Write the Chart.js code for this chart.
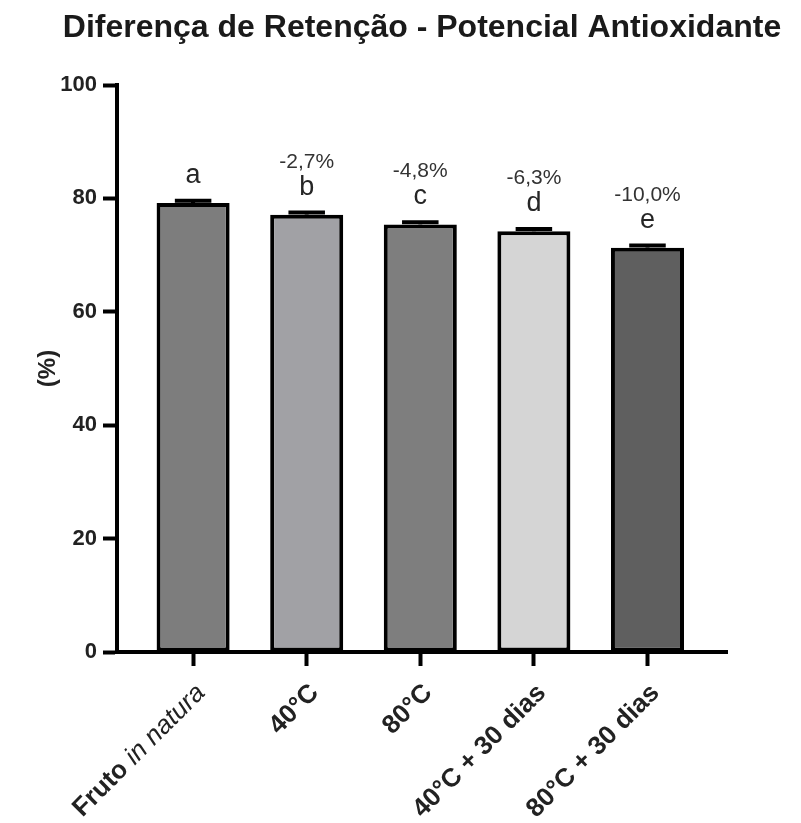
<!DOCTYPE html>
<html>
<head>
<meta charset="utf-8">
<script src="https://cdn.jsdelivr.net/npm/chart.js@4.4.0/dist/chart.umd.min.js"></script>
<style>
  html, body { margin: 0; padding: 0; background: #ffffff; }
  canvas { display: block; }
</style>
</head>
<body>
<canvas id="chart" width="801" height="823"></canvas>
<script>
// Retenção do potencial antioxidante por tratamento
const chartTitle = 'Diferença de Retenção - Potencial Antioxidante';
const categories = ['Fruto in natura', '40°C', '80°C', '40°C + 30 dias', '80°C + 30 dias'];
const italicPart = 'in natura';
const values = [79.2, 77.1, 75.4, 74.2, 71.3];
const errors = [0.4, 0.4, 0.4, 0.4, 0.4];
const letters = ['a', 'b', 'c', 'd', 'e'];
const yTicks = [0, 20, 40, 60, 80, 100];
const barColors = ['#7d7d7d', '#a1a1a5', '#7e7e7e', '#d5d5d5', '#5f5f5f'];

const FONT = "'Liberation Sans', Arial, Helvetica, sans-serif";

// Diferença percentual em relação ao fruto in natura
const diffLabels = values.map((v, i) =>
  i === 0 ? '' : ((v / values[0] - 1) * 100).toFixed(1).replace('.', ',') + '%'
);

const points = values.map((v, i) => ({ x: i, y: v }));

const annotations = {
  id: 'annotations',
  afterDatasetsDraw(chart) {
    const ctx = chart.ctx;
    const ys = chart.scales.y;
    const meta = chart.getDatasetMeta(0);
    ctx.save();
    meta.data.forEach((bar, i) => {
      const x = bar.x;
      const top = ys.getPixelForValue(values[i]);
      const eTop = ys.getPixelForValue(values[i] + errors[i]);
      const half = bar.width / 4;
      // barra de erro (SEM)
      ctx.strokeStyle = '#000';
      ctx.lineWidth = 4;
      ctx.lineCap = 'butt';
      ctx.beginPath();
      ctx.moveTo(x, top);
      ctx.lineTo(x, eTop);
      ctx.moveTo(x - half, eTop);
      ctx.lineTo(x + half, eTop);
      ctx.stroke();
      // letras de significância
      ctx.fillStyle = '#262626';
      ctx.textAlign = 'center';
      ctx.textBaseline = 'alphabetic';
      ctx.font = '27px ' + FONT;
      ctx.fillText(letters[i], x, top - 20);
      if (diffLabels[i]) {
        ctx.fillStyle = '#333';
        ctx.font = '21px ' + FONT;
        ctx.fillText(diffLabels[i], x, top - 47);
      }
    });
    ctx.restore();
  },
  afterDraw(chart) {
    const ctx = chart.ctx;
    const area = chart.chartArea;
    ctx.save();
    // título
    ctx.fillStyle = '#1a1a1a';
    ctx.font = 'bold 32px ' + FONT;
    ctx.textAlign = 'center';
    ctx.textBaseline = 'alphabetic';
    ctx.fillText(chartTitle, (area.left + area.right) / 2, 37);

    // rótulos do eixo x, inclinados
    const xs = chart.scales.x;
    ctx.fillStyle = '#222';
    ctx.textBaseline = 'middle';
    ctx.textAlign = 'left';
    categories.forEach((label, i) => {
      const parts = [];
      const k = label.indexOf(italicPart);
      if (k >= 0) {
        parts.push([label.slice(0, k), 'bold 26px ' + FONT]);
        parts.push([italicPart, 'italic 26px ' + FONT]);
      } else {
        parts.push([label, 'bold 26px ' + FONT]);
      }
      let total = 0;
      parts.forEach(p => { ctx.font = p[1]; total += ctx.measureText(p[0]).width; });
      ctx.save();
      ctx.translate(xs.getPixelForValue(i) + 8, area.bottom + 37);
      ctx.rotate(-Math.PI / 4);
      let cx = -total;
      parts.forEach(p => {
        ctx.font = p[1];
        ctx.fillText(p[0], cx, 0);
        cx += ctx.measureText(p[0]).width;
      });
      ctx.restore();
    });
    ctx.restore();
  }
};

new Chart(document.getElementById('chart'), {
  type: 'bar',
  data: {
    datasets: [{
      data: points,
      backgroundColor: barColors,
      borderColor: '#000',
      borderWidth: 4,
      borderSkipped: false,
      barPercentage: 0.643,
      categoryPercentage: 1
    }]
  },
  options: {
    responsive: false,
    animation: false,
    devicePixelRatio: 1,
    layout: { padding: { left: 0, right: 74, top: 85, bottom: 0 } },
    plugins: {
      legend: { display: false },
      tooltip: { enabled: false },
      title: { display: false }
    },
    scales: {
      x: {
        type: 'linear',
        min: -0.67,
        max: 4.7,
        offset: false,
        afterBuildTicks: s => { s.ticks = categories.map((_, i) => ({ value: i })); },
        afterFit: s => { s.height = 171; },
        ticks: { display: false },
        grid: { display: true, offset: false, drawOnChartArea: false, drawTicks: true, tickLength: 14, tickWidth: 4, tickColor: '#000' },
        border: { display: true, width: 4, color: '#000' }
      },
      y: {
        min: 0,
        max: 100,
        afterBuildTicks: s => { s.ticks = yTicks.map(v => ({ value: v })); },
        afterFit: s => { s.width = 117; },
        ticks: { color: '#222', padding: 6, font: { family: FONT, size: 22, weight: 'bold' } },
        grid: { display: true, drawOnChartArea: false, drawTicks: true, tickLength: 14, tickWidth: 4, tickColor: '#000' },
        border: { display: true, width: 4, color: '#000' },
        title: {
          display: true,
          text: '(%)',
          color: '#222',
          font: { family: FONT, size: 24, weight: 'bold' },
          padding: { top: 34, bottom: 0 }
        }
      }
    }
  },
  plugins: [annotations]
});
</script>
</body>
</html>
